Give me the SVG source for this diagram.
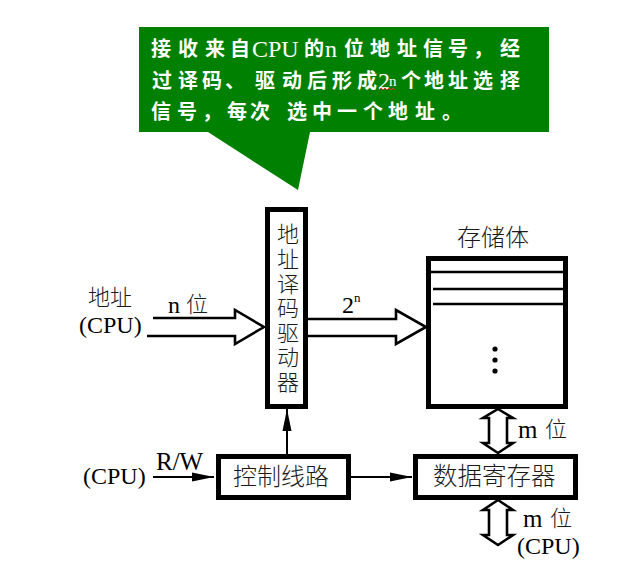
<svg xmlns="http://www.w3.org/2000/svg" width="631" height="571" viewBox="0 0 631 571">
  <style>
    .box { fill: #ffffff; stroke: #000000; stroke-width: 5; }
    .hollow { fill: #ffffff; stroke: #000000; stroke-width: 2.6; stroke-linejoin: miter; }
    .wire { fill: none; stroke: #000000; stroke-width: 2; }
    .thin { fill: none; stroke: #000000; stroke-width: 2.5; }
    .lbl { font-family: "Liberation Serif", "Noto Sans CJK SC", serif; fill: #000000; }
    .cjk { font-family: "Noto Sans CJK SC", "Liberation Serif", sans-serif; fill: #1a1a1a; font-weight: 300; }
    .vert { writing-mode: vertical-rl; letter-spacing: 2.6px; }
    .note { font-family: "Noto Sans CJK SC", "Liberation Serif", sans-serif; fill: #ffffff; font-weight: 700; font-size: 20px; }
    .noteLatin { font-family: "Liberation Serif", serif; fill: #ffffff; font-size: 24px; font-weight: 400; }
    .noteSup { font-family: "Liberation Serif", serif; fill: #ffffff; font-size: 15px; font-weight: 400; }
  </style>
  <defs>
    <marker id="head" markerUnits="userSpaceOnUse" markerWidth="24" markerHeight="12" refX="22" refY="5" orient="auto" overflow="visible">
      <path d="M22,5 L0,0.5 L0,9.5 Z" fill="#000000"/>
    </marker>
  </defs>

  <!-- callout note -->
  <g id="note">
    <polygon points="139,27 549,27 549,132 310,132 298,190 208,132 139,132" fill="#008000"/>
    <text class="note" y="56"><tspan x="151 178 205 230">接收来自</tspan><tspan class="noteLatin" x="252" y="57">CPU</tspan><tspan x="304" y="56">的</tspan><tspan class="noteLatin" x="325" y="57">n</tspan><tspan x="344 370 397 423 448 473 500" y="56">位地址信号，经</tspan></text>
    <text class="note" y="88"><tspan x="152 178 202 225 255 282 307 332 357">过译码、驱动后形成</tspan><tspan class="noteLatin" x="378" y="89">2</tspan><tspan class="noteSup" x="389" y="86">n</tspan><tspan x="401 424 448 473 500" y="88">个地址选择</tspan></text>
    <text class="note" y="119" x="151 177 202 227 250 287 312 337 363 388 415 442">信号，每次选中一个地址。</text>
    <path d="M379,90 l2,-2 l2,2 l2,-2 l2,2 l2,-2 l2,2 l2,-2 l2,2" fill="none" stroke="#e03030" stroke-width="1"/>
  </g>

  <!-- input labels -->
  <g id="addr-in">
    <text class="cjk" x="88" y="305" font-size="22">地址</text>
    <text class="lbl" x="79" y="333" font-size="24">(CPU)</text>
    <text class="lbl" x="168" y="313" font-size="24">n</text>
    <text class="cjk" x="186" y="312" font-size="22">位</text>
  </g>

  <!-- address decoder -->
  <g id="decoder">
    <rect class="box" x="267.5" y="209.5" width="38" height="197"/>
    <text class="cjk vert" x="288" y="223" font-size="22">地址译码驱动器</text>
  </g>

  <!-- memory array -->
  <g id="memory">
    <text class="cjk" x="457" y="246" font-size="24">存储体</text>
    <rect class="box" x="428.5" y="258.5" width="137" height="148"/>
    <line class="thin" x1="431" y1="272" x2="566" y2="272"/>
    <line class="thin" x1="433" y1="289" x2="566" y2="289"/>
    <line class="thin" x1="433" y1="304" x2="566" y2="304"/>
    <circle cx="495" cy="349" r="2.6" fill="#000000"/>
    <circle cx="495" cy="360" r="2.6" fill="#000000"/>
    <circle cx="495" cy="371" r="2.6" fill="#000000"/>
  </g>

  <!-- control logic -->
  <g id="control">
    <rect class="box" x="218.5" y="456.5" width="130" height="41"/>
    <text class="cjk" x="233" y="485" font-size="24">控制线路</text>
  </g>

  <!-- data register -->
  <g id="data-register">
    <rect class="box" x="415.5" y="456.5" width="160" height="41"/>
    <text class="cjk" x="433" y="485" font-size="24.5">数据寄存器</text>
  </g>

  <!-- side labels -->
  <g id="rw-in">
    <text class="lbl" x="83" y="484" font-size="24">(CPU)</text>
    <text class="lbl" x="156" y="470" font-size="25">R/W</text>
  </g>
  <g id="data-labels">
    <text class="lbl" x="518" y="438" font-size="25">m</text>
    <text class="cjk" x="545" y="437" font-size="22">位</text>
    <text class="lbl" x="523" y="527" font-size="25">m</text>
    <text class="cjk" x="550" y="526" font-size="22">位</text>
    <text class="lbl" x="517" y="554" font-size="24">(CPU)</text>
    <text class="lbl" x="342" y="313" font-size="24">2</text>
    <text class="lbl" x="354" y="302" font-size="13">n</text>
  </g>

  <!-- connectors -->
  <g id="connectors">
    <path class="hollow" d="M153,318 L235,318 L235,310 L264,327 L235,344 L235,336 L147,336" style="fill:none"/>
    <path class="hollow" d="M308,319 L396,319 L396,310 L426,327 L396,344 L396,336 L308,336" style="fill:none"/>
    <polygon class="hollow" points="498,409 513,418 507,418 507,443 513,443 498,453 483,443 489,443 489,418 483,418"/>
    <polygon class="hollow" points="498,500 513,510 507,510 507,535 513,535 498,545 483,535 489,535 489,510 483,510"/>
    <line class="wire" x1="153" y1="477" x2="214" y2="477" marker-end="url(#head)"/>
    <line class="wire" x1="351" y1="477" x2="412" y2="477" marker-end="url(#head)"/>
    <line class="wire" x1="287" y1="454" x2="287" y2="409" marker-end="url(#head)"/>
  </g>
</svg>
